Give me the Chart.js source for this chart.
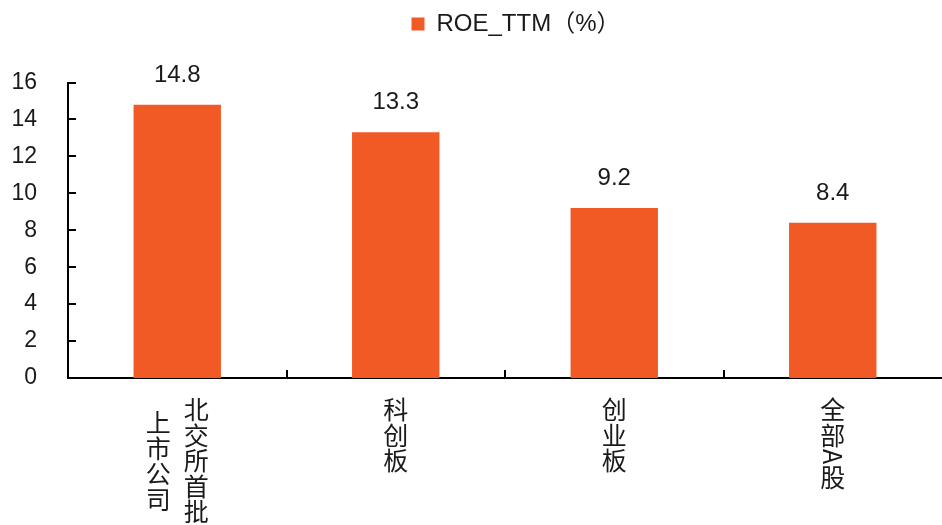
<!DOCTYPE html>
<html>
<head>
<meta charset="utf-8">
<script src="https://cdn.jsdelivr.net/npm/chart.js@4.4.0/dist/chart.umd.min.js"></script>
<style>
  html, body { margin: 0; padding: 0; background: #fff; }
</style>
</head>
<body>
<canvas id="myChart" width="942" height="525"></canvas>
<script>
// Chart data
const categories = ['北交所首批上市公司', '科创板', '创业板', '全部A股'];
// vertical label columns, rightmost column first
const categoryColumns = [['北交所首批', '上市公司'], ['科创板'], ['创业板'], ['全部A股']];
const roeValues = [14.8, 13.3, 9.2, 8.4];
const yTicks = [0, 2, 4, 6, 8, 10, 12, 14, 16];
const seriesName = 'ROE_TTM（%）';

const barColor = '#F15A24';
const textColor = '#1a1a1a';
const latinFont = '"Liberation Sans", Arial, "Noto Sans CJK SC", sans-serif';
const cjkFont = '"Noto Sans CJK SC", sans-serif';

// put the legend at the very top and nudge it right, like the original
const legendShift = {
    id: 'legendShift',
    beforeDraw(chart) {
        const lg = chart.legend;
        const h = lg.height;
        lg.left = chart.chartArea.left + 22;
        lg.top = 0;
        lg.bottom = h;
    }
};

// inner tick marks, value labels and vertical category labels
const extras = {
    id: 'extras',
    afterDraw(chart) {
        const ctx = chart.ctx;
        const area = chart.chartArea;
        const xs = chart.scales.x;
        const ys = chart.scales.y;
        ctx.save();
        ctx.strokeStyle = '#000';
        ctx.lineWidth = 2;

        yTicks.forEach(v => {
            if (v === 0) return;
            const py = Math.round(ys.getPixelForValue(v));
            ctx.beginPath();
            ctx.moveTo(area.left, py);
            ctx.lineTo(area.left + 8, py);
            ctx.stroke();
        });

        for (let i = 1; i < categories.length; i++) {
            const px = Math.round((xs.getPixelForValue(i - 1) + xs.getPixelForValue(i)) / 2);
            ctx.beginPath();
            ctx.moveTo(px, area.bottom);
            ctx.lineTo(px, area.bottom - 8);
            ctx.stroke();
        }

        const meta = chart.getDatasetMeta(0);
        ctx.fillStyle = textColor;
        ctx.font = '24px ' + latinFont;
        ctx.textAlign = 'center';
        ctx.textBaseline = 'alphabetic';
        meta.data.forEach((bar, i) => {
            ctx.fillText(roeValues[i].toFixed(1), bar.x, bar.y - 23);
        });

        ctx.font = '25px ' + cjkFont;
        ctx.textBaseline = 'middle';
        const pitch = 25.5;
        const colGap = 38;
        const labelTop = area.bottom + 19;
        categoryColumns.forEach((cols, i) => {
            const cx = xs.getPixelForValue(i);
            const heights = cols.map(col => Array.from(col).reduce((h, ch) =>
                h + (/[A-Za-z0-9]/.test(ch) ? ctx.measureText(ch).width + 2 : pitch), 0));
            const maxH = Math.max(...heights);
            cols.forEach((col, j) => {
                const colX = cx + (cols.length - 1) / 2 * colGap - j * colGap;
                let cy = labelTop + (maxH - heights[j]) / 2;
                Array.from(col).forEach(ch => {
                    if (/[A-Za-z0-9]/.test(ch)) {
                        const w = ctx.measureText(ch).width + 2;
                        ctx.save();
                        ctx.translate(colX, cy + w / 2);
                        ctx.rotate(Math.PI / 2);
                        ctx.fillText(ch, 0, 0);
                        ctx.restore();
                        cy += w;
                    } else {
                        ctx.fillText(ch, colX, cy + pitch / 2);
                        cy += pitch;
                    }
                });
            });
        });
        ctx.restore();
    }
};

const ctx = document.getElementById('myChart').getContext('2d');

const myChart = new Chart(ctx, {
    type: 'bar',
    data: {
        labels: categories,
        datasets: [{
            label: seriesName,
            data: roeValues,
            backgroundColor: barColor,
            barPercentage: 0.4,
            categoryPercentage: 1.0
        }]
    },
    options: {
        responsive: false,
        animation: false,
        devicePixelRatio: 1,
        layout: {
            padding: 0
        },
        plugins: {
            legend: {
                position: 'top',
                fullSize: false,
                labels: {
                    boxWidth: 13,
                    boxHeight: 13,
                    padding: 12,
                    color: textColor,
                    font: { size: 24, family: latinFont }
                }
            },
            tooltip: { enabled: false }
        },
        scales: {
            x: {
                grid: { display: false, drawTicks: false },
                border: { color: '#000', width: 2 },
                ticks: { display: false },
                afterFit: scale => { scale.height = 147; }
            },
            y: {
                min: 0,
                max: 16,
                grid: { display: false, drawTicks: false },
                border: { color: '#000', width: 2 },
                afterBuildTicks: scale => { scale.ticks = yTicks.map(v => ({ value: v })); },
                ticks: {
                    padding: 31,
                    color: textColor,
                    font: { size: 23, family: latinFont }
                },
                afterFit: scale => {
                    scale.width = 68;
                    scale.paddingTop = 82.5;
                }
            }
        }
    },
    plugins: [legendShift, extras]
});
</script>
</body>
</html>
